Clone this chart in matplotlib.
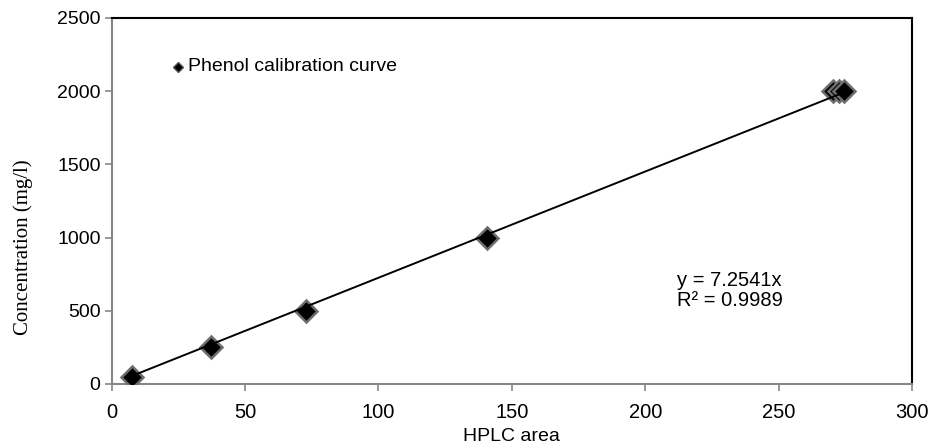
import matplotlib.pyplot as plt
import numpy as np

# calibration data
hplc_area = [7.5, 37.2, 72.8, 140.6, 270.5, 272.5, 274.5]
concentration = [50, 250, 500, 1000, 2000, 2000, 2000]

# trendline through origin
slope = 7.2541
r2 = 0.9989

x_ticks = [0, 50, 100, 150, 200, 250, 300]
y_ticks = [0, 500, 1000, 1500, 2000, 2500]

plt.rcParams['font.family'] = ['Liberation Sans', 'DejaVu Sans']

fig = plt.figure(figsize=(9.35, 4.47), dpi=100)
ax = fig.add_axes([0.1195, 0.141, 0.8559, 0.819])

# points
ax.plot(hplc_area, concentration, linestyle='none', marker='D', markersize=11,
        markerfacecolor='black', markeredgecolor='#6e6e6e', markeredgewidth=1.8,
        zorder=3)

# trendline over data range
xl = np.array([min(hplc_area), max(hplc_area)])
ax.plot(xl, slope * xl, color='black', linewidth=1.4, zorder=4)

ax.set_xlim(0, 300)
ax.set_ylim(0, 2500)
ax.set_xticks(x_ticks)
ax.set_yticks(y_ticks)
ax.tick_params(direction='out', length=5, width=1.2, color='#868686')
ax.tick_params(axis='y', labelsize=14, pad=3)
ax.tick_params(axis='x', labelsize=14.5, pad=9)

for s in ['left', 'bottom']:
    ax.spines[s].set_color('#868686')
    ax.spines[s].set_linewidth(1.5)
for s in ['top', 'right']:
    ax.spines[s].set_color('black')
    ax.spines[s].set_linewidth(1.5)

ax.set_xlabel('HPLC area', fontsize=14, labelpad=4)
ax.set_ylabel('Concentration (mg/l)', fontsize=15, family=['Liberation Serif'])
ax.yaxis.set_label_coords(-0.098, 0.374)

# legend
ax.plot([24.9], [2165], linestyle='none', marker='D', markersize=5,
        color='black', markeredgecolor='#555555')
ax.text(28.5, 2165, 'Phenol calibration curve', fontsize=14, va='center')

# equation
ax.text(212, 640, 'y = %.4fx\nR² = %.4f' % (slope, r2), fontsize=14.5,
        va='center', linespacing=1.05)

fig.savefig('out.png', dpi=100)
